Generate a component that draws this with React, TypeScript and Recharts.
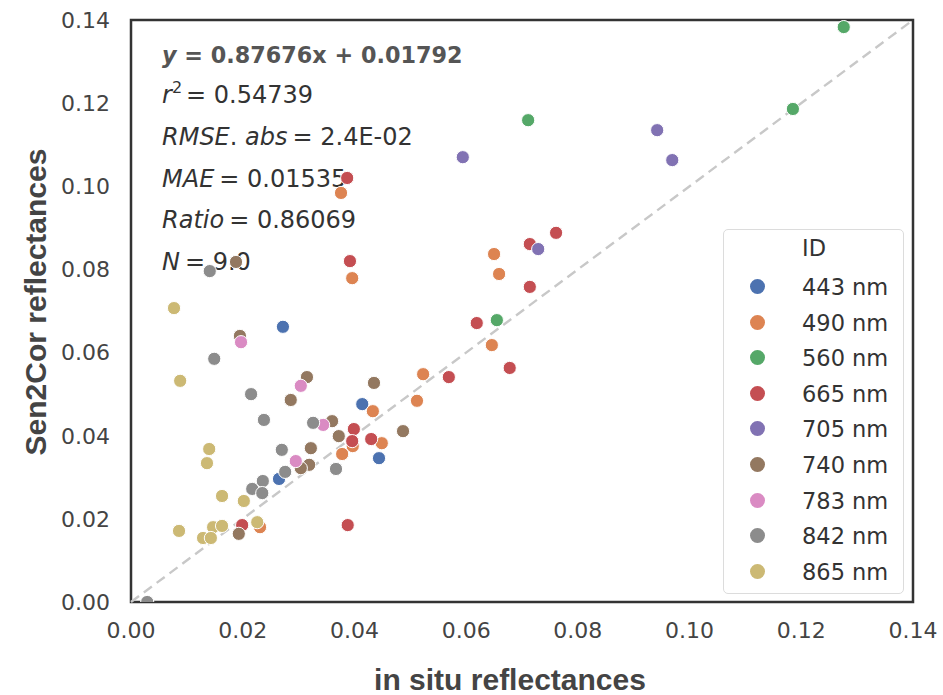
import React from 'react';
import {
  ScatterChart, Scatter, XAxis, YAxis, ReferenceLine, ReferenceArea, Legend, Customized,
} from 'recharts';

const bands = ['443 nm', '490 nm', '560 nm', '665 nm', '705 nm', '740 nm', '783 nm', '842 nm', '865 nm'];
const colors = ['#4C72B0', '#DD8452', '#55A868', '#C44E52', '#8172B3', '#937860', '#DA8BC3', '#8C8C8C', '#CCB974'];
const axisTicks = [0, 0.02, 0.04, 0.06, 0.08, 0.1, 0.12, 0.14];

const x443 = [0.0272, 0.0414, 0.0444, 0.0265];
const y443 = [0.0662, 0.0476, 0.0346, 0.0296];

const x490 = [0.0376, 0.0396, 0.065, 0.0659, 0.0646, 0.0523, 0.0512, 0.0433, 0.0449, 0.0378, 0.0397, 0.0231];
const y490 = [0.0984, 0.0779, 0.0837, 0.0789, 0.0618, 0.0548, 0.0484, 0.0459, 0.0382, 0.0356, 0.0375, 0.018];

const x560 = [0.0711, 0.1276, 0.1185, 0.0655];
const y560 = [0.1159, 0.1383, 0.1186, 0.0678];

const x665 = [0.0387, 0.0392, 0.0714, 0.0714, 0.0761, 0.0619, 0.0678, 0.0569, 0.0399, 0.0396, 0.043, 0.0388, 0.0199];
const y665 = [0.102, 0.082, 0.0861, 0.0758, 0.0888, 0.0671, 0.0563, 0.0541, 0.0416, 0.0387, 0.0392, 0.0185, 0.0185];

const x705 = [0.0729, 0.0942, 0.0969, 0.0594];
const y705 = [0.0849, 0.1135, 0.1063, 0.107];

const x740 = [0.0188, 0.0195, 0.0315, 0.0435, 0.0286, 0.036, 0.0372, 0.0322, 0.0319, 0.0487, 0.0193, 0.0304];
const y740 = [0.0818, 0.064, 0.0541, 0.0527, 0.0486, 0.0435, 0.0399, 0.037, 0.033, 0.0411, 0.0164, 0.0322];

const x783 = [0.0197, 0.0304, 0.0344, 0.0295];
const y783 = [0.0625, 0.052, 0.0426, 0.0339];

const x842 = [0.0141, 0.0149, 0.0215, 0.0238, 0.0326, 0.027, 0.0367, 0.0276, 0.0236, 0.0217, 0.0235, 0.0029];
const y842 = [0.0796, 0.0585, 0.05, 0.0438, 0.0431, 0.0366, 0.032, 0.0313, 0.0291, 0.0272, 0.0262, 0.0];

const x865 = [0.0077, 0.0088, 0.014, 0.0136, 0.0163, 0.0202, 0.0086, 0.0147, 0.0163, 0.0226, 0.0129, 0.0143];
const y865 = [0.0707, 0.0532, 0.0368, 0.0334, 0.0255, 0.0243, 0.0171, 0.018, 0.0183, 0.0192, 0.0154, 0.0154];

const xs = [x443, x490, x560, x665, x705, x740, x783, x842, x865];
const ys = [y443, y490, y560, y665, y705, y740, y783, y842, y865];

const series = bands.map((name, i) => ({
  name,
  color: colors[i],
  data: xs[i].map((x, j) => ({ x, y: ys[i][j] })),
}));

const FONT = 'DejaVu Sans, sans-serif';

const makeDot = (color: string) => (props: any) => {
  const { cx, cy } = props;
  if (cx == null || cy == null) return <g />;
  return <circle cx={cx} cy={cy} r={6.6} fill={color} stroke="#ffffff" strokeWidth={1} />;
};

const LegendBox = () => (
  <div
    style={{
      width: 181,
      height: 365,
      boxSizing: 'border-box',
      border: '1.5px solid #dcdcdc',
      borderRadius: 5,
      background: 'rgba(255,255,255,0.85)',
      position: 'relative',
      fontFamily: FONT,
      fontSize: 22.5,
      color: '#333',
    }}
  >
    <div style={{ position: 'absolute', left: 78, top: 5, lineHeight: '26px' }}>ID</div>
    {series.map((s, i) => (
      <div key={s.name} style={{ position: 'absolute', left: 0, top: 44 + i * 35.6, height: 26, width: 181 }}>
        <div
          style={{
            position: 'absolute', left: 26, top: 5, width: 15, height: 15, borderRadius: '50%', background: s.color,
          }}
        />
        <div style={{ position: 'absolute', left: 78, top: 0, lineHeight: '26px' }}>{s.name}</div>
      </div>
    ))}
  </div>
);

const Annotations = () => (
  <g fontFamily={FONT}>
    <text x={162} y={63} fontSize={22.3} fontWeight="bold" fill="#555">
      <tspan fontStyle="italic">y</tspan> = 0.87676x + 0.01792
    </text>
    <text x={162} y={103} fontSize={24} fill="#333">
      <tspan fontStyle="italic">r</tspan>
      <tspan dy={-10} fontSize={16}>2</tspan>
      <tspan dy={10} dx={4}>= 0.54739</tspan>
    </text>
    <text x={162} y={145} fontSize={24} fill="#333">
      <tspan fontStyle="italic">RMSE</tspan>. <tspan fontStyle="italic">abs</tspan>
      <tspan dx={5}>= 2.4E-02</tspan>
    </text>
    <text x={162} y={187} fontSize={24} fill="#333">
      <tspan fontStyle="italic">MAE</tspan>
      <tspan dx={5}>= 0.01535</tspan>
    </text>
    <text x={162} y={228} fontSize={24} fill="#333">
      <tspan fontStyle="italic">Ratio</tspan>
      <tspan dx={5}>= 0.86069</tspan>
    </text>
    <text x={162} y={270} fontSize={24} fill="#333">
      <tspan fontStyle="italic">N</tspan>
      <tspan dx={5}>= 9.0</tspan>
    </text>
    <text
      x={510}
      y={690}
      textAnchor="middle"
      fontFamily="Liberation Sans, Arial, sans-serif"
      fontWeight="bold"
      fontSize={30}
      fill="#444"
    >
      in situ reflectances
    </text>
    <text
      x={46}
      y={302}
      textAnchor="middle"
      transform="rotate(-90 46 302)"
      fontFamily="Liberation Sans, Arial, sans-serif"
      fontWeight="bold"
      fontSize={30}
      fill="#444"
    >
      Sen2Cor reflectances
    </text>
  </g>
);

export default function App() {
  return (
    <div style={{ position: 'absolute', left: 0, top: 0, width: 943, height: 695, background: '#fff' }}>
      <ScatterChart width={943} height={695} margin={{ top: 20, right: 30, bottom: 53, left: 71 }}>
        <XAxis
          type="number"
          dataKey="x"
          domain={[0, 0.14]}
          ticks={axisTicks}
          tickFormatter={(v: number) => v.toFixed(2)}
          allowDataOverflow
          height={40}
          axisLine={false}
          tickLine={false}
          tickSize={0}
          tickMargin={20}
          tick={{ fontFamily: FONT, fontSize: 22, fill: '#444' }}
        />
        <YAxis
          type="number"
          dataKey="y"
          domain={[0, 0.14]}
          ticks={axisTicks}
          tickFormatter={(v: number) => v.toFixed(2)}
          allowDataOverflow
          width={60}
          axisLine={false}
          tickLine={false}
          tickSize={0}
          tickMargin={21}
          tick={{ fontFamily: FONT, fontSize: 22, fill: '#444' }}
        />
        <ReferenceLine
          segment={[{ x: 0, y: 0 }, { x: 0.14, y: 0.14 }]}
          stroke="#c8c8c8"
          strokeWidth={2.4}
          strokeDasharray="10 6"
        />
        {series.map((s) => (
          <Scatter
            key={s.name}
            name={s.name}
            data={s.data}
            fill={s.color}
            shape={makeDot(s.color)}
            isAnimationActive={false}
          />
        ))}
        <ReferenceArea x1={0} x2={0.14} y1={0} y2={0.14} fill="none" stroke="#333" strokeWidth={2.5} ifOverflow="visible" />
        <Legend
          layout="vertical"
          align="center"
          verticalAlign="middle"
          content={() => <LegendBox />}
          wrapperStyle={{ left: 723, top: 229, width: 181, height: 365 }}
        />
        <Customized component={Annotations} />
      </ScatterChart>
    </div>
  );
}
